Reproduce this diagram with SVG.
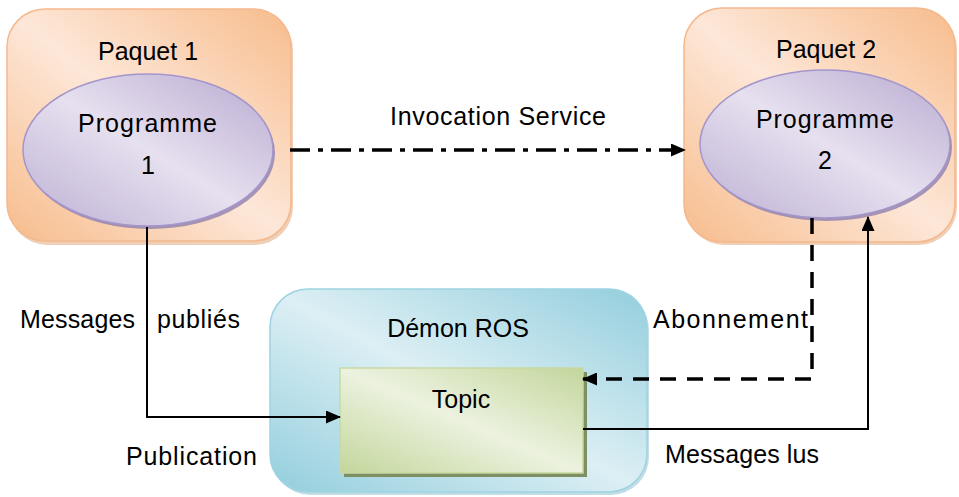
<svg xmlns="http://www.w3.org/2000/svg" width="959" height="497" viewBox="0 0 959 497">
  <style>
    .lbl { font-family: "Liberation Sans", Arial, sans-serif; font-size: 25px; fill: #000; }
    .mid { text-anchor: middle; }
    .pkg { fill: url(#gOrange); stroke: #F5B88C; stroke-width: 1.5; }
    .pkgShadow { fill: #E0A77C; opacity: 0.55; }
    .prog { fill: url(#gPurple); stroke: #A495CB; stroke-width: 1.5; }
    .progShadow { fill: #8E7FAE; opacity: 0.8; }
    .daemon { fill: url(#gBlue); stroke: #9FD3E1; stroke-width: 1.5; }
    .daemonShadow { fill: #86BCCB; opacity: 0.5; }
    .topic { fill: url(#gGreen); stroke: #C7D9A2; stroke-width: 1.5; }
    .topicShadow { fill: #7E8F64; }
    .wire { fill: none; stroke: #000; }
    .solid { stroke-width: 2; }
    .dashed { stroke-width: 3.5; stroke-dasharray: 16 11; }
    .dashdot { stroke-width: 3.5; stroke-dasharray: 20 8 5 8; }
  </style>
  <defs>
    <linearGradient id="gOrange" x1="0" y1="1" x2="1" y2="0">
      <stop offset="0" stop-color="#F7BC8C"/>
      <stop offset="0.5" stop-color="#FDE7D8"/>
      <stop offset="1" stop-color="#F7BC8C"/>
    </linearGradient>
    <linearGradient id="gPurple" x1="0" y1="1" x2="1" y2="0">
      <stop offset="0" stop-color="#BDB0D4"/>
      <stop offset="0.5" stop-color="#E6E0EF"/>
      <stop offset="1" stop-color="#B8A9D0"/>
    </linearGradient>
    <linearGradient id="gBlue" x1="0" y1="1" x2="1" y2="0">
      <stop offset="0" stop-color="#93CEDD"/>
      <stop offset="0.5" stop-color="#DCEFF4"/>
      <stop offset="1" stop-color="#93CEDD"/>
    </linearGradient>
    <linearGradient id="gGreen" x1="0" y1="1" x2="1" y2="0">
      <stop offset="0" stop-color="#C3D69C"/>
      <stop offset="0.5" stop-color="#ECF2DF"/>
      <stop offset="1" stop-color="#C3D69C"/>
    </linearGradient>
    <marker id="arrow" viewBox="0 0 15 13" refX="14" refY="6.5" markerWidth="15" markerHeight="13" markerUnits="userSpaceOnUse" orient="auto">
      <path d="M0,0 L15,6.5 L0,13 Z" fill="#000"/>
    </marker>
  </defs>

  <!-- Package 1 with its program -->
  <g id="paquet1">
    <rect class="pkgShadow" x="9" y="12" width="284" height="233" rx="38"/>
    <rect class="pkg" x="7" y="9" width="284" height="232" rx="38"/>
    <text class="lbl mid" x="148" y="60">Paquet 1</text>
  </g>
  <g id="programme1">
    <ellipse class="progShadow" cx="150" cy="153" rx="125" ry="76"/>
    <ellipse class="prog" cx="148" cy="150" rx="125" ry="76"/>
    <text class="lbl" x="78" y="132" textLength="139">Programme</text>
    <text class="lbl mid" x="148" y="174">1</text>
  </g>

  <!-- Package 2 with its program -->
  <g id="paquet2">
    <rect class="pkgShadow" x="686" y="11" width="271" height="234" rx="38"/>
    <rect class="pkg" x="684" y="8" width="271" height="234" rx="38"/>
    <text class="lbl mid" x="826" y="58">Paquet 2</text>
  </g>
  <g id="programme2">
    <ellipse class="progShadow" cx="827" cy="147" rx="125" ry="74"/>
    <ellipse class="prog" cx="825" cy="144" rx="125" ry="74"/>
    <text class="lbl" x="756" y="128" textLength="138">Programme</text>
    <text class="lbl mid" x="825" y="169">2</text>
  </g>

  <!-- ROS daemon holding the topic -->
  <g id="demon">
    <rect class="daemonShadow" x="272" y="292" width="377" height="203" rx="38"/>
    <rect class="daemon" x="270" y="289" width="377" height="203" rx="38"/>
    <text class="lbl mid" x="458" y="337">Démon ROS</text>
  </g>
  <g id="topic">
    <rect class="topicShadow" x="344" y="372" width="243" height="105"/>
    <rect class="topic" x="340" y="368" width="243" height="105"/>
    <text class="lbl mid" x="461" y="408">Topic</text>
  </g>

  <!-- Connectors -->
  <g id="connectors">
    <path id="invocation" class="wire dashdot" d="M290,150 H685" marker-end="url(#arrow)"/>
    <path id="publication" class="wire solid" d="M147,227 V417 H340" marker-end="url(#arrow)"/>
    <path id="abonnement" class="wire dashed" d="M812,218 V379 H583" marker-end="url(#arrow)"/>
    <path id="lecture" class="wire solid" d="M583,429 H868 V217" marker-end="url(#arrow)"/>
  </g>

  <!-- Connector labels -->
  <g id="labels">
    <text class="lbl" x="390" y="125" textLength="216">Invocation Service</text>
    <text class="lbl" x="20" y="328" textLength="115">Messages</text>
    <text class="lbl" x="157" y="328" textLength="83">publiés</text>
    <text class="lbl" x="126" y="465" textLength="131">Publication</text>
    <text class="lbl" x="653" y="328" textLength="155">Abonnement</text>
    <text class="lbl" x="665" y="463" textLength="154">Messages lus</text>
  </g>
</svg>
